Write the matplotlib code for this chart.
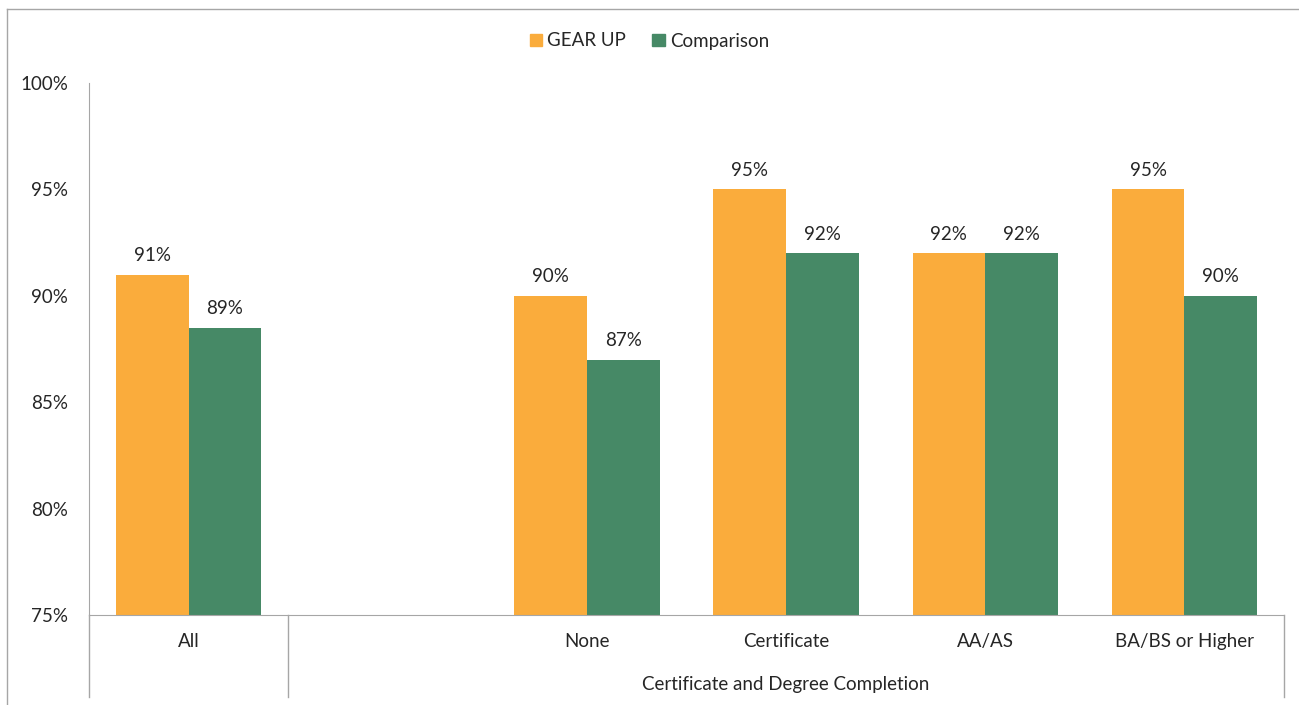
import numpy as np
import matplotlib.pyplot as plt
from matplotlib.lines import Line2D
from matplotlib.patches import Patch

categories = ['All', '', 'None', 'Certificate', 'AA/AS', 'BA/BS or Higher']
gear_up = [91, np.nan, 90, 95, 92, 95]
comparison = [88.5, np.nan, 87, 92, 92, 90]
gear_labels = ['91%', '', '90%', '95%', '92%', '95%']
comp_labels = ['89%', '', '87%', '92%', '92%', '90%']
group_label = 'Certificate and Degree Completion'
yticks = [75, 80, 85, 90, 95, 100]

ORANGE = '#FAAC3C'
GREEN = '#468966'
GRID = '#A6A6A6'
TXT = '#262626'
FS = 13.5

plt.rcParams['font.family'] = ['Lato', 'DejaVu Sans']

fig = plt.figure(figsize=(12.99, 7.05), dpi=100)
W, H = 1299, 705
ax = fig.add_axes([89 / W, 1 - 615 / H, (1284 - 89) / W, (615 - 83) / H])

x = np.arange(len(categories))
bw = 0.365
ax.bar(x - bw / 2, gear_up, bw, color=ORANGE, label='GEAR UP')
ax.bar(x + bw / 2, comparison, bw, color=GREEN, label='Comparison')

for i in range(len(categories)):
    if gear_labels[i]:
        ax.text(x[i] - bw / 2, gear_up[i] + 0.5, gear_labels[i], ha='center', va='bottom',
                fontsize=FS, color=TXT)
        ax.text(x[i] + bw / 2, comparison[i] + 0.5, comp_labels[i], ha='center', va='bottom',
                fontsize=FS, color=TXT)

ax.set_xlim(-0.5, len(categories) - 0.5)
ax.set_ylim(75, 100)
ax.set_yticks(yticks)
ax.set_yticklabels([f'{t}%' for t in yticks], fontsize=FS, color=TXT)
ax.tick_params(axis='y', length=0, pad=15)
ax.set_xticks([])
for s in ['top', 'right']:
    ax.spines[s].set_visible(False)
ax.spines['left'].set_color(GRID)
ax.spines['bottom'].set_color(GRID)

# category labels and separators below the axis
tr = ax.get_xaxis_transform()
for i, c in enumerate(categories):
    if c:
        ax.text(x[i], -0.05, c, transform=tr, ha='center', va='center', fontsize=FS, color=TXT)
ax.text((x[1] + x[5]) / 2, -0.13, group_label, transform=tr, ha='center', va='center',
        fontsize=FS, color=TXT)
for xs in [-0.5, 0.5, len(categories) - 0.5]:
    ax.add_line(Line2D([xs, xs], [0, -0.155], transform=tr, color=GRID, lw=1, clip_on=False))

# outer frame
fig.add_artist(Line2D([7 / W, 7 / W], [0, 1 - 9 / H], color=GRID, lw=1))
fig.add_artist(Line2D([7 / W, 1], [1 - 9 / H, 1 - 9 / H], color=GRID, lw=1))

handles = [Patch(color=ORANGE), Patch(color=GREEN)]
fig.legend(handles, ['GEAR UP', 'Comparison'], loc='center', bbox_to_anchor=(0.5, 1 - 41 / H),
           ncol=2, frameon=False, fontsize=FS, handlelength=0.65, handleheight=0.65,
           handletextpad=0.3, columnspacing=1.4, labelcolor=TXT)

fig.savefig('out.png', dpi=100)
